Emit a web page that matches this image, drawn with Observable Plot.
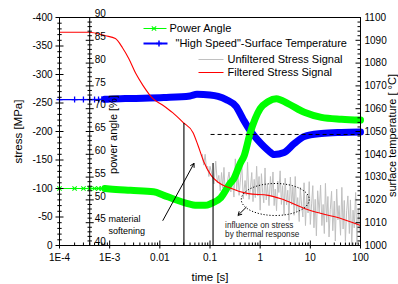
<!DOCTYPE html>
<html><head><meta charset="utf-8">
<script src="https://cdn.jsdelivr.net/npm/d3@7"></script>
<script src="https://cdn.jsdelivr.net/npm/@observablehq/plot@0.6"></script>
<style>html,body{margin:0;padding:0;background:#fff;}</style>
</head><body><div id="chart"></div>
<script>
// ---------- axis ticks / labels ----------
const stressTicks = [-400, -350, -300, -250, -200, -150, -100, -50, 0];
const powerTicks = [40, 45, 50, 55, 60, 65, 70, 75, 80, 85, 90];
const tempTicks = [1000, 1010, 1020, 1030, 1040, 1050, 1060, 1070, 1080, 1090, 1100];
const timeTicks = [1e-4, 1e-3, 0.01, 0.1, 1, 10, 100];
const timeTickLabels = ["1E-4", "1E-3", "0.01", "0.1", "1", "10", "100"];

// ---------- series ----------
const markerTime = [1e-4, 2e-4, 3e-4, 4e-4, 5e-4, 6e-4, 7e-4, 8e-4, 9e-4, 1e-3];
const powerMarker = [52.5, 52.5, 52.5, 52.5, 52.5, 52.5, 52.5, 52.5, 52.4, 52.4];
const tempMarker = [1064.0, 1064.0, 1064.0, 1064.0, 1064.0, 1064.0, 1064.1, 1064.1, 1064.2, 1064.2];

const powerTime = [1e-4, 8e-4, 1e-3, 0.0026, 0.0075, 0.012, 0.02, 0.033, 0.055, 0.08, 0.105, 0.165, 0.25, 0.3, 0.4, 0.48, 0.63, 1.0, 1.45, 2.1, 3.6, 7.6, 16.6, 41.7, 100];
const powerAngle = [52.5, 52.5, 52.4, 52.1, 51.8, 51.0, 50.1, 49.3, 48.8, 48.8, 49.2, 50.5, 53.6, 54.7, 58.0, 59.7, 64.6, 70.0, 71.6, 72.2, 71.1, 69.2, 68.1, 67.7, 67.5];

const tempTime = [1e-4, 8e-4, 1e-3, 0.0026, 0.012, 0.04, 0.055, 0.1, 0.145, 0.21, 0.33, 0.46, 0.63, 0.91, 1.45, 1.9, 3.0, 4.8, 7.6, 16.6, 41.7, 100];
const tempValue = [1064.0, 1064.1, 1064.2, 1064.5, 1064.9, 1065.6, 1066.3, 1066.0, 1065.4, 1064.0, 1061.0, 1055.3, 1050.4, 1046.1, 1041.7, 1039.9, 1040.8, 1044.7, 1047.8, 1049.1, 1049.6, 1049.8];

const filteredTime = [1e-4, 3.8e-4, 8.3e-4, 1.3e-3, 1.8e-3, 2.4e-3, 3.3e-3, 4.6e-3, 7.2e-3, 0.0115, 0.018, 0.029, 0.046, 0.058, 0.076, 0.105, 0.145, 0.23, 0.58, 1.45, 2.6, 7.6, 16.6, 42, 100];
const filteredStress = [-374, -374, -368, -363, -347, -328, -302, -281, -258, -246, -233, -216, -198, -175, -146, -123, -111, -102, -91, -88, -82, -65, -56, -47, -35];

const rawTime = [0.07, 0.075, 0.08, 0.085, 0.09, 0.095, 0.1, 0.11, 0.12, 0.13,
  0.14, 0.15, 0.16, 0.17, 0.18, 0.19, 0.2, 0.22, 0.24, 0.26,
  0.28, 0.3, 0.32, 0.34, 0.36, 0.38, 0.4, 0.43, 0.46, 0.5,
  0.53, 0.56, 0.6, 0.64, 0.68, 0.72, 0.76, 0.8, 0.85, 0.9,
  0.95, 1.0, 1.06, 1.12, 1.18, 1.25, 1.32, 1.4, 1.5, 1.6,
  1.7, 1.8, 1.9, 2.0, 2.12, 2.24, 2.36, 2.5, 2.65, 2.8,
  3.0, 3.15, 3.35, 3.55, 3.75, 4.0, 4.25, 4.5, 4.75, 5.0,
  5.3, 5.6, 6.0, 6.3, 6.7, 7.1, 7.5, 8.0, 8.5, 9.0,
  9.5, 10, 10.6, 11.2, 11.8, 12.5, 13.2, 14, 15, 16,
  17, 18, 19, 20, 21.2, 22.4, 23.6, 25, 26.5, 28,
  30, 31.5, 33.5, 35.5, 37.5, 40, 42.5, 45, 47.5, 50,
  53, 56, 60, 63, 67, 71, 75, 80, 85, 90,
  95, 100];
const rawStress = [-160, -141, -160, -135, -139, -121, -139, -124, -108, -148,
  -110, -123, -96, -128, -101, -137, -95, -110, -129, -94,
  -117, -85, -152, -96, -129, -88, -111, -144, -82, -114,
  -88, -146, -81, -101, -128, -77, -116, -84, -139, -87,
  -121, -62, -126, -93, -75, -136, -80, -107, -70, -121,
  -86, -129, -70, -99, -61, -113, -93, -131, -72, -105,
  -53, -118, -71, -97, -44, -120, -71, -103, -53, -121,
  -60, -84, -42, -102, -71, -50, -110, -35, -89, -57,
  -112, -37, -73, -105, -31, -81, -17, -96, -57, -106,
  -35, -72, -21, -109, -41, -86, -15, -63, -95, -26,
  -78, -8, -99, -45, -70, -18, -102, -29, -79, -7,
  -61, -87, -21, -80, -1, -62, -31, -93, -3, -64,
  -23, -74];

// ---------- annotations (data units) ----------
const markLines = [{t: 0.0302, top: -214}, {t: 0.115, top: -144}];
const dashedLevel = [{temp: 1048.7, from: 0.105, to: 100}];
const arrows = [
  {t1: 0.0115, s1: -44, t2: 0.048, s2: -144},
  {t1: 0.525, s1: -67, t2: 0.363, s2: -53}
];
const ellipseCenter = [{t: 2.0, s: -80.7}];

// secondary axes mapped onto the stress (primary) scale
const pY = d3.scaleLinear([40, 90], [0, -400]);
const tY = d3.scaleLinear([1000, 1100], [0, -400]);

const power = powerTime.map((t, i) => ({t, y: pY(powerAngle[i])}));
const powerDense = power.filter(d => d.t >= 8e-4);
const powerMk = markerTime.map((t, i) => ({t, y: pY(powerMarker[i])}));
const temp = tempTime.map((t, i) => ({t, y: tY(tempValue[i])}));
const tempDense = temp.filter(d => d.t >= 8e-4);
const tempMk = markerTime.map((t, i) => ({t, y: tY(tempMarker[i])}));
const filtered = filteredTime.map((t, i) => ({t, y: filteredStress[i]}));
const raw = rawTime.map((t, i) => ({t, y: rawStress[i]}));

// custom symbols
const seg = (x1, y1, x2, y2) => ({draw(c) { c.moveTo(x1, y1); c.lineTo(x2, y2); }});
const crossSym = a => ({draw(c) { c.moveTo(-a, -a); c.lineTo(a, a); c.moveTo(-a, a); c.lineTo(a, -a); }});
const plusSym = a => ({draw(c) { c.moveTo(-a, 0); c.lineTo(a, 0); c.moveTo(0, -a); c.lineTo(0, a); }});
const ellipseSym = (rx, ry) => ({draw(c) {
  const k = 0.5523;
  c.moveTo(rx, 0);
  c.bezierCurveTo(rx, ry * k, rx * k, ry, 0, ry);
  c.bezierCurveTo(-rx * k, ry, -rx, ry * k, -rx, 0);
  c.bezierCurveTo(-rx, -ry * k, -rx * k, -ry, 0, -ry);
  c.bezierCurveTo(rx * k, -ry, rx, -ry * k, rx, 0);
  c.closePath();
}});

const stressMinor = d3.range(-400, 1, 10).filter(v => v % 50 !== 0);
const powerMinor = d3.range(40, 91, 1).filter(v => v % 5 !== 0);
const tempMinor = d3.range(1000, 1101, 2).filter(v => v % 10 !== 0);
const timeMinor = [1e-4, 1e-3, 1e-2, 1e-1, 1, 10].flatMap(d => [2, 3, 4, 5, 6, 7, 8, 9].map(k => k * d));

const GREEN = "#00ff00", BLUE = "#0000ff", RED = "#ff0000", GRAY = "#c0c0c0";
const tickDot = (data, opts) => Plot.dot(data, {fill: "none", stroke: "black", strokeWidth: 1, ...opts});

const svg = Plot.plot({
  width: 398, height: 284,
  marginLeft: 59, marginRight: 38, marginTop: 17, marginBottom: 39,
  style: {fontFamily: "'Liberation Sans', Arial, Helvetica, sans-serif", fontSize: "10px", background: "#fff", color: "#000"},
  x: {type: "log", domain: [1e-4, 100], axis: null},
  y: {domain: [0, -400], axis: null},
  marks: [
    // data
    Plot.line(raw, {x: "t", y: "y", stroke: GRAY, strokeWidth: 1}),
    Plot.line(temp, {x: "t", y: "y", stroke: BLUE, strokeWidth: 1.2, curve: "monotone-x"}),
    Plot.line(tempDense, {x: "t", y: "y", stroke: BLUE, strokeWidth: 7, curve: "monotone-x"}),
    tickDot(tempMk, {x: "t", y: "y", symbol: plusSym(3), stroke: BLUE, strokeWidth: 1.3}),
    Plot.line(power, {x: "t", y: "y", stroke: GREEN, strokeWidth: 1.2, curve: "monotone-x"}),
    Plot.line(powerDense, {x: "t", y: "y", stroke: GREEN, strokeWidth: 7, curve: "monotone-x"}),
    tickDot(powerMk, {x: "t", y: "y", symbol: crossSym(2.2), stroke: GREEN, strokeWidth: 1.1}),
    Plot.line(filtered, {x: "t", y: "y", stroke: RED, strokeWidth: 1.1, curve: "monotone-x"}),

    // annotations
    Plot.ruleX(markLines, {x: "t", y1: 0, y2: "top", stroke: "black", strokeWidth: 1.1}),
    Plot.ruleY(dashedLevel, {y: d => tY(d.temp), x1: "from", x2: "to", stroke: "black", strokeWidth: 1, strokeDasharray: "4,3"}),
    Plot.arrow(arrows, {x1: "t1", y1: "s1", x2: "t2", y2: "s2", stroke: "black", strokeWidth: 1, headLength: 6}),
    tickDot(ellipseCenter, {x: "t", y: "s", symbol: ellipseSym(34, 16), strokeDasharray: "1.2,1.8", strokeWidth: 1}),
    Plot.text(["material", "softening"], {x: 9.5e-4, y: (d, i) => [-47, -26][i], text: d => d, textAnchor: "start", fontSize: 9}),
    Plot.text(["influence on stress", "by thermal response"], {x: 0.2, y: (d, i) => [-35, -19][i], text: d => d, textAnchor: "start", fontSize: 8.2, fill: "#222"}),

    // frame & axis lines
    Plot.ruleX([1e-4, 4e-4, 100], {stroke: "black", strokeWidth: 1}),
    Plot.ruleY([-400, 0], {stroke: "black", strokeWidth: 1}),

    // stress axis (left)
    tickDot(stressTicks, {x: 1e-4, y: d => d, symbol: seg(-4, 0, 4, 0)}),
    tickDot(stressMinor, {x: 1e-4, y: d => d, symbol: seg(-2.2, 0, 2.2, 0)}),
    Plot.text(stressTicks, {x: 1e-4, y: d => d, text: d => String(d), dx: -7, textAnchor: "end", fontSize: 10}),

    // power angle axis (inner left)
    tickDot(powerTicks, {x: 4e-4, y: d => pY(d), symbol: seg(-4, 0, 4, 0)}),
    tickDot(powerMinor, {x: 4e-4, y: d => pY(d), symbol: seg(-2.2, 0, 2.2, 0)}),
    Plot.text(powerTicks, {x: 4e-4, y: d => pY(d), text: d => String(d), dx: 5, dy: -3.5, textAnchor: "start", fontSize: 10}),

    // temperature axis (right)
    tickDot(tempTicks, {x: 100, y: d => tY(d), symbol: seg(-5, 0, 0, 0)}),
    tickDot(tempMinor, {x: 100, y: d => tY(d), symbol: seg(-3, 0, 0, 0)}),
    Plot.text(tempTicks, {x: 100, y: d => tY(d), text: d => String(d), dx: 4, textAnchor: "start", fontSize: 10}),

    // time axis (bottom)
    tickDot(timeTicks, {x: d => d, y: 0, symbol: seg(0, -5, 0, 3)}),
    tickDot(timeMinor, {x: d => d, y: 0, symbol: seg(0, -3, 0, 0)}),
    Plot.text(timeTicks, {x: d => d, y: 0, text: (d, i) => timeTickLabels[i], dy: 12, textAnchor: "middle", fontSize: 10}),

    // axis titles
    Plot.text(["stress [MPa]"], {frameAnchor: "left", dx: -41, dy: 0, rotate: -90, textAnchor: "middle", lineAnchor: "middle", fontSize: 11.5}),
    Plot.text(["power angle [%]"], {frameAnchor: "left", dx: 54, dy: 3, rotate: -90, textAnchor: "middle", lineAnchor: "middle", fontSize: 11}),
    Plot.text(["surface temperature [ °C]"], {frameAnchor: "right", dx: 31.5, dy: 4, rotate: -90, textAnchor: "middle", lineAnchor: "middle", fontSize: 11}),
    Plot.text(["time [s]"], {frameAnchor: "bottom", dx: 0, dy: 32, textAnchor: "middle", lineAnchor: "middle", fontSize: 11.5}),

    // legend
    tickDot([0], {frameAnchor: "top-left", dx: 95.5, dy: 11, symbol: seg(-11.5, 0, 11.5, 0), stroke: GREEN}),
    tickDot([0], {frameAnchor: "top-left", dx: 94.5, dy: 11, symbol: crossSym(2.2), stroke: GREEN, strokeWidth: 1.1}),
    tickDot([0], {frameAnchor: "top-left", dx: 96, dy: 26, symbol: seg(-12, 0, 12, 0), stroke: BLUE, strokeWidth: 2}),
    tickDot([0], {frameAnchor: "top-left", dx: 99.5, dy: 26, symbol: plusSym(3), stroke: BLUE, strokeWidth: 1.5}),
    tickDot([0], {frameAnchor: "top-left", dx: 151.5, dy: 42, symbol: seg(-12.5, 0, 12.5, 0), stroke: GRAY}),
    tickDot([0], {frameAnchor: "top-left", dx: 151.5, dy: 55, symbol: seg(-12.5, 0, 12.5, 0), stroke: RED}),
    Plot.text(["Power Angle"], {frameAnchor: "top-left", dx: 110, dy: 11, textAnchor: "start", lineAnchor: "middle", fontSize: 11}),
    Plot.text(["\"High Speed\"-Surface Temperature"], {frameAnchor: "top-left", dx: 116, dy: 26, textAnchor: "start", lineAnchor: "middle", fontSize: 11}),
    Plot.text(["Unfiltered Stress Signal"], {frameAnchor: "top-left", dx: 168, dy: 42, textAnchor: "start", lineAnchor: "middle", fontSize: 11}),
    Plot.text(["Filtered Stress Signal"], {frameAnchor: "top-left", dx: 168, dy: 55, textAnchor: "start", lineAnchor: "middle", fontSize: 11})
  ]
});
document.getElementById("chart").appendChild(svg);
</script>
</body></html>
